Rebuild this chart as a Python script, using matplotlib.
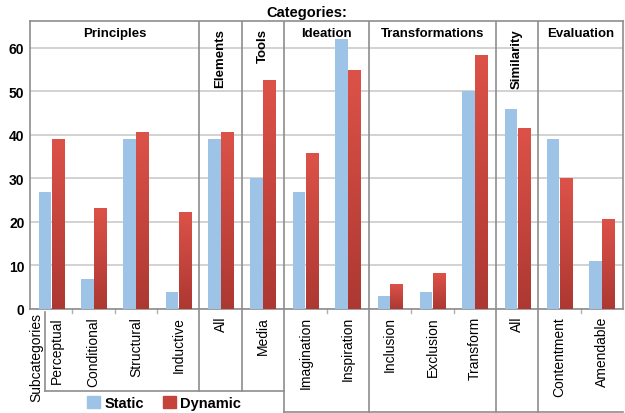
import matplotlib
matplotlib.use("Agg")
import matplotlib.pyplot as plt
import matplotlib.transforms as mtrans
from matplotlib.colors import LinearSegmentedColormap
from matplotlib.patches import Patch
import numpy as np

plt.rcParams['font.family'] = ['Liberation Sans', 'DejaVu Sans']

groups = ['Principles', 'Elements', 'Tools', 'Ideation', 'Transformations', 'Similarity', 'Evaluation']
group_sizes = [4, 1, 1, 2, 3, 1, 2]
subcats = ['Perceptual', 'Conditional', 'Structural', 'Inductive', 'All', 'Media',
           'Imagination', 'Inspiration', 'Inclusion', 'Exclusion', 'Transform', 'All',
           'Contentment', 'Amendable']
static = [27, 7, 39, 4, 39, 30, 27, 62, 3, 4, 50, 46, 39, 11]
dynamic = [39, 23.3, 40.8, 22.4, 40.8, 52.6, 35.8, 55, 5.7, 8.2, 58.4, 41.7, 30, 20.8]
yticks = [0, 10, 20, 30, 40, 50, 60]

BLUE = '#9dc3e6'
RED = '#cf4a40'
LINE = '#8e8e8e'
GRID = '#cfcfcf'

W, H = 625, 414
fig = plt.figure(figsize=(6.25, 4.14), dpi=100)
ax = fig.add_axes([30 / W, 1 - 310 / H, 593 / W, 288 / H])

n = len(subcats)
x = np.arange(n) + 0.5
bw = 0.295
ax.bar(x - bw / 2, static, bw, color=BLUE, zorder=3)
rbars = ax.bar(x + bw / 2 + 0.01, dynamic, bw, color=RED, zorder=3)

# vertical gradient on the red bars
cmap = LinearSegmentedColormap.from_list('rd', ['#ad3832', '#dc5248'])
grad = np.linspace(0, 1, 100).reshape(-1, 1)
for b in rbars:
    x0, w, h = b.get_x(), b.get_width(), b.get_height()
    im = ax.imshow(grad, extent=[x0, x0 + w, 0, h], origin='lower', aspect='auto',
                   cmap=cmap, zorder=4)
    im.set_clip_path(b)

ax.set_xlim(0, n)
ax.set_ylim(0, 66.2)
ax.set_yticks(yticks)
ax.set_yticklabels([str(v) for v in yticks], fontsize=10, fontweight='bold')
ax.tick_params(axis='y', length=0, pad=4)
ax.set_xticks(x)
ax.set_xticklabels(subcats, rotation=90, fontsize=10, va='top')
ax.tick_params(axis='x', length=0, pad=5)
# first label sits a little to the right of its box edge
lab0 = ax.get_xticklabels()[0]
lab0.set_transform(lab0.get_transform() + mtrans.ScaledTranslation(6 / 100, 0, fig.dpi_scale_trans))
ax.grid(axis='y', color=GRID, lw=1.3, zorder=0)
for s in ax.spines.values():
    s.set_color(LINE)
    s.set_linewidth(1.2)

bounds = np.cumsum([0] + group_sizes)
bt = mtrans.blended_transform_factory(ax.transData, fig.transFigure)
ft = fig.transFigure


def fy(p):
    return 1 - p / H


# group separators inside the plot and below it
for i, b in enumerate(bounds[1:-1]):
    ax.axvline(b, color=LINE, lw=1.2, zorder=5)
    bottom = 392 if b < 6 else 414
    ax.plot([b, b], [fy(310), fy(bottom)], transform=bt, color=LINE, lw=1.2, clip_on=False)

# small ticks between subcategories of one group
for g0, g1 in zip(bounds[:-1], bounds[1:]):
    for t in range(g0 + 1, g1):
        ax.plot([t, t], [fy(310), fy(314)], transform=bt, color='#b0b0b0', lw=1, clip_on=False)

# boxes under the axis
ax.plot([45 / W, 45 / W], [fy(313), fy(392)], transform=ft, color=LINE, lw=1.2, clip_on=False)
ax.plot([45 / W, ax.transData.transform((6, 0))[0] / W], [fy(392), fy(392)], transform=ft,
        color=LINE, lw=1.2, clip_on=False)
ax.plot([6, n], [fy(413), fy(413)], transform=bt, color=LINE, lw=1.2, clip_on=False)

# group headers
for g, g0, g1 in zip(groups, bounds[:-1], bounds[1:]):
    c = (g0 + g1) / 2
    if g1 - g0 > 1:
        ax.text(c, fy(34), g, transform=bt, ha='center', va='center',
                fontsize=9.5, fontweight='bold')
    else:
        ax.text(c, fy(29), g, transform=bt, ha='center', va='top', rotation=90,
                fontsize=9.5, fontweight='bold')

fig.text(307 / W, fy(13), 'Categories:', ha='center', va='center', fontsize=10.5, fontweight='bold')
fig.text(36 / W, fy(313), 'Subcategories', ha='center', va='top', rotation=90, fontsize=10)

handles = [Patch(color=BLUE, label='Static'), Patch(color='#c4433a', label='Dynamic')]
fig.legend(handles=handles, loc='center', bbox_to_anchor=(164 / W, fy(404)), ncol=2,
           frameon=False, prop={'size': 10.5, 'weight': 'bold'}, handlelength=0.9,
           handleheight=0.9, handletextpad=0.3, columnspacing=1.3, borderpad=0)

fig.savefig('out.png', dpi=100)
